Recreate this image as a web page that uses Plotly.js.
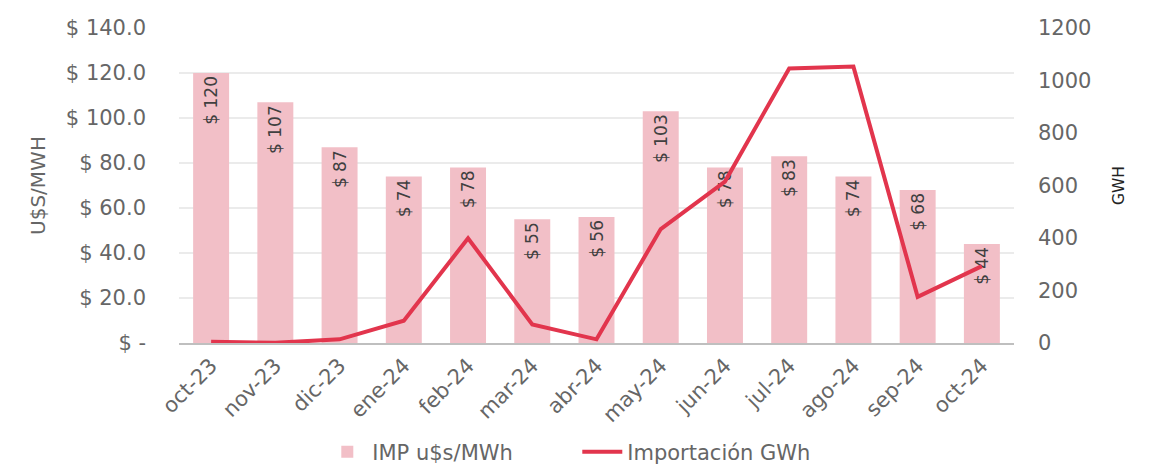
<!DOCTYPE html>
<html>
<head>
<meta charset="utf-8">
<script src="https://cdn.plot.ly/plotly-3.0.1.min.js"></script>
<style>html,body{margin:0;padding:0;background:#fff;}#chart{width:1153px;height:476px;}</style>
</head>
<body>
<div id="chart"></div>
<script>
const categories = ["oct-23","nov-23","dic-23","ene-24","feb-24","mar-24","abr-24","may-24","jun-24","jul-24","ago-24","sep-24","oct-24"];
const priceUSDperMWh = [120,107,87,74,78,55,56,103,78,83,74,68,44];
const importGWh = [5,1,14,85,399,71,14,434,615,1046,1053,176,293];
const leftTickVals = [0,20,40,60,80,100,120,140];
const leftTickText = ["$ -","$ 20.0","$ 40.0","$ 60.0","$ 80.0","$ 100.0","$ 120.0","$ 140.0"];
const rightTickVals = [0,200,400,600,800,1000,1200];
const barLabels = priceUSDperMWh.map(v => "$ " + v);

const FONT = "'DejaVu Sans', sans-serif";
const W = 400;
const GRAY = "#666666";

const traces = [
  {
    type: "bar",
    name: "IMP u$s/MWh",
    x: categories,
    y: priceUSDperMWh,
    text: barLabels,
    texttemplate: "%{text}",
    marker: {color: "#f2bfc7"},
    textposition: "inside",
    insidetextanchor: "end",
    textangle: -90,
    textfont: {family: FONT, size: 17, color: "#404040", weight: W}
  },
  {
    type: "scatter",
    mode: "lines",
    name: "Importación GWh",
    x: categories,
    y: importGWh,
    yaxis: "y2",
    line: {color: "#e2354d", width: 4}
  }
];

const layout = {
  width: 1153,
  height: 476,
  margin: {l: 179, r: 139, t: 28, b: 133, autoexpand: false},
  paper_bgcolor: "#fff",
  plot_bgcolor: "#fff",
  font: {family: FONT, color: GRAY, weight: W},
  bargap: 0.44,
  showlegend: true,
  legend: {
    orientation: "h",
    x: 0.477, xanchor: "center",
    y: -0.346, yanchor: "middle",
    font: {family: FONT, size: 21, color: GRAY, weight: W},
    itemwidth: 40,
    entrywidth: 200,
    entrywidthmode: "pixels",
    tracegroupgap: 0
  },
  xaxis: {
    type: "category",
    automargin: false,
    tickangle: -45,
    tickfont: {family: FONT, size: 21, color: GRAY, weight: W},
    showline: true,
    linecolor: "#bfbfbf",
    linewidth: 2,
    ticks: "",
    showgrid: false
  },
  yaxis: {
    automargin: false,
    range: [0, 140],
    tickvals: leftTickVals,
    ticktext: leftTickText,
    tickfont: {family: FONT, size: 21, color: GRAY, weight: W},
    gridcolor: "#ebebeb",
    gridwidth: 1.5,
    zeroline: false,
    ticklabelstandoff: 32,
    title: {text: "U$S/MWH", font: {family: FONT, size: 20, color: GRAY, weight: W}, standoff: 14}
  },
  yaxis2: {
    automargin: false,
    overlaying: "y",
    side: "right",
    range: [0, 1200],
    tickvals: rightTickVals,
    tickfont: {family: FONT, size: 21, color: GRAY, weight: W},
    showgrid: false,
    zeroline: false,
    ticklabelstandoff: 23,
    title: {text: "GWH", font: {family: FONT, size: 15.5, color: "#222", weight: W}, standoff: 22}
  }
};

Plotly.newPlot("chart", traces, layout, {displayModeBar: false, staticPlot: true});
</script>
</body>
</html>
